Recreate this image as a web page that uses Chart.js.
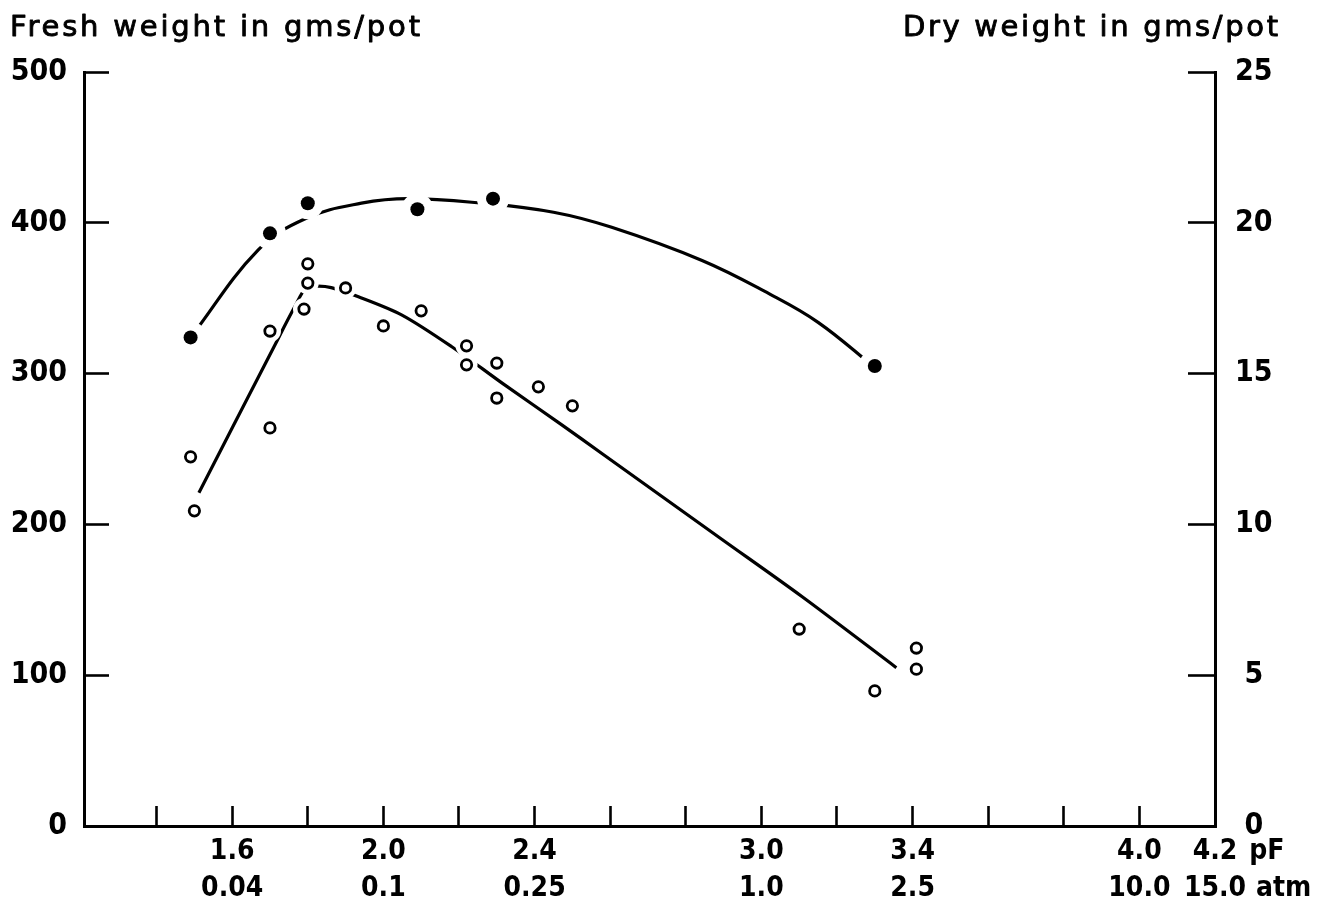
<!DOCTYPE html>
<html>
<head>
<meta charset="utf-8">
<script src="https://cdn.jsdelivr.net/npm/chart.js@4.4.1/dist/chart.umd.min.js"></script>
<style>
html,body{margin:0;padding:0;background:#fff;}
#wrap{width:1328px;height:906px;position:relative;}
</style>
</head>
<body>
<div id="wrap"><canvas id="c" width="1328" height="906"></canvas></div>
<script>
// ---------- data ----------
const freshTitle = 'Fresh weight in gms/pot';
const dryTitle = 'Dry weight in gms/pot';

const pfTicks = [1.4, 1.6, 1.8, 2.0, 2.2, 2.4, 2.6, 2.8, 3.0, 3.2, 3.4, 3.6, 3.8, 4.0, 4.2];
const pfLabelValues = [1.6, 2.0, 2.4, 3.0, 3.4, 4.0, 4.2];
const pfLabelText = ['1.6', '2.0', '2.4', '3.0', '3.4', '4.0', '4.2'];
const atmLabelText = ['0.04', '0.1', '0.25', '1.0', '2.5', '10.0', '15.0'];
const pfUnit = 'pF';
const atmUnit = 'atm';

const freshTicks = [0, 100, 200, 300, 400, 500];
const dryTicks = [0, 5, 10, 15, 20, 25];

// filled circles (fresh weight, left axis)
const freshPF = [1.49, 1.70, 1.80, 2.09, 2.29, 3.30];
const freshW  = [324, 393, 413, 409, 416, 305];
// fitted curve through filled circles
const freshCurvePF = [1.49, 1.669, 1.796, 1.942, 2.066, 2.26, 2.45, 2.604, 2.843, 3.02, 3.15, 3.30];
const freshCurveW  = [324, 382, 403, 413, 416, 413, 407, 397, 375, 353, 334, 304];

// open circles (dry weight, right axis)
const dryPF = [1.49, 1.50, 1.70, 1.70, 1.79, 1.80, 1.80, 1.90, 2.00, 2.10, 2.22, 2.22, 2.30, 2.30, 2.41, 2.50, 3.10, 3.30, 3.41, 3.41];
const dryW  = [12.24, 10.45, 16.41, 13.2, 17.14, 18.0, 18.64, 17.84, 16.58, 17.08, 15.92, 15.29, 15.35, 14.19, 14.56, 13.93, 6.53, 4.48, 5.9, 5.2];
// fitted curve through open circles
const dryCurvePF = [1.512, 1.711, 1.764, 1.796, 1.828, 1.862, 1.934, 2.048, 2.18, 2.318, 2.472, 2.578, 2.896, 3.108, 3.357];
const dryCurveW  = [11.05, 15.9, 17.18, 17.85, 17.9, 17.85, 17.55, 16.95, 15.9, 14.65, 13.3, 12.35, 9.5, 7.6, 5.25];

// ---------- styling constants ----------
const INK = '#000';
const numFont = '"Liberation Sans Narrow", "DejaVu Sans Condensed", sans-serif';
const titleFont = '"DejaVu Sans", sans-serif';
const X_FONT_SIZE = 28, X_LH = 1.32, X_TICKLEN = -20, X_PAD = 27;

const pts = (xs, ys) => xs.map((x, i) => ({x: x, y: ys[i]}));

function fitText(ctx, text, x, y, targetW, align) {
  ctx.letterSpacing = '0px';
  const w = ctx.measureText(text).width;
  const ls = Math.max(0, (targetW - w) / (text.length - 1));
  ctx.letterSpacing = ls + 'px';
  ctx.textAlign = 'left';
  const start = align === 'right' ? x - targetW : x;
  ctx.fillText(text, start, y);
  ctx.strokeText(text, start, y);
}

const headerPlugin = {
  id: 'headers',
  afterDraw(chart) {
    const ctx = chart.ctx;
    ctx.save();
    ctx.fillStyle = INK;
    ctx.strokeStyle = INK;
    ctx.lineWidth = 0.9;
    ctx.lineJoin = 'round';
    ctx.font = '29px ' + titleFont;
    ctx.textBaseline = 'alphabetic';
    fitText(ctx, freshTitle, 10, 36, 410, 'left');
    fitText(ctx, dryTitle, 1278, 36, 375, 'right');
    // units after last x labels
    ctx.letterSpacing = '0px';
    const xs = chart.scales.x;
    const px = xs.getPixelForValue(pfLabelValues[pfLabelValues.length - 1]);
    ctx.font = 'bold ' + X_FONT_SIZE + 'px ' + numFont;
    ctx.textBaseline = 'middle';
    ctx.textAlign = 'left';
    const lh = X_FONT_SIZE * X_LH;
    const y1 = xs.top + X_TICKLEN + X_PAD + lh / 2;
    const w1 = ctx.measureText(pfLabelText[pfLabelText.length - 1]).width;
    const w2 = ctx.measureText(atmLabelText[atmLabelText.length - 1]).width;
    ctx.fillText(pfUnit, px + w1 / 2 + 12, y1);
    ctx.fillText(atmUnit, px + w2 / 2 + 10, y1 + lh);
    ctx.restore();
  }
};

new Chart(document.getElementById('c'), {
  type: 'scatter',
  data: {
    datasets: [
      { // fresh curve
        data: pts(freshCurvePF, freshCurveW), yAxisID: 'y', showLine: true,
        borderColor: INK, borderWidth: 3.2, pointRadius: 0, tension: 0.4,
        fill: false, order: 10
      },
      { // dry curve
        data: pts(dryCurvePF, dryCurveW), yAxisID: 'y2', showLine: true,
        borderColor: INK, borderWidth: 3.2, pointRadius: 0, tension: 0.3,
        fill: false, order: 10
      },
      { // halos for gaps
        data: pts(freshPF, freshW), yAxisID: 'y', showLine: false,
        pointRadius: 16, pointBackgroundColor: '#fff', pointBorderWidth: 0, order: 5
      },
      {
        data: pts(dryPF, dryW), yAxisID: 'y2', showLine: false,
        pointRadius: 11, pointBackgroundColor: '#fff', pointBorderWidth: 0, order: 5
      },
      { // filled markers
        data: pts(freshPF, freshW), yAxisID: 'y', showLine: false,
        pointRadius: 7, pointBackgroundColor: INK, pointBorderWidth: 0, order: 1
      },
      { // open markers
        data: pts(dryPF, dryW), yAxisID: 'y2', showLine: false,
        pointRadius: 5.2, pointBackgroundColor: '#fff', pointBorderColor: INK, pointBorderWidth: 2.8, order: 1
      }
    ]
  },
  options: {
    responsive: false,
    animation: false,
    devicePixelRatio: 1,
    layout: { padding: { top: 72, left: 0, right: 0, bottom: 0 } },
    plugins: { legend: { display: false }, tooltip: { enabled: false }, title: { display: false } },
    scales: {
      x: {
        type: 'linear', position: 'bottom', min: 1.208, max: 4.2,
        afterBuildTicks: s => { s.ticks = pfTicks.map(v => ({ value: v })); },
        afterFit: s => { s.height = 906 - 826; },
        ticks: {
          autoSkip: false, maxRotation: 0, minRotation: 0, color: INK, padding: X_PAD,
          font: { family: numFont, size: X_FONT_SIZE, lineHeight: X_LH, weight: 'bold' },
          callback: v => {
            const i = pfLabelValues.findIndex(p => Math.abs(p - v) < 1e-6);
            return i < 0 ? '' : [pfLabelText[i], atmLabelText[i]];
          }
        },
        grid: { drawOnChartArea: false, drawTicks: true, tickLength: X_TICKLEN, tickWidth: 2.6, tickColor: INK },
        border: { display: true, color: INK, width: 3 }
      },
      y: {
        type: 'linear', position: 'left', min: 0, max: 500,
        afterBuildTicks: s => { s.ticks = freshTicks.map(v => ({ value: v })); },
        afterFit: s => { s.width = 84; },
        ticks: { color: INK, padding: 42, font: { family: numFont, size: 30, weight: 'bold' } },
        grid: { drawOnChartArea: false, drawTicks: true, tickLength: -25, tickWidth: 2.6, tickColor: INK },
        border: { display: true, color: INK, width: 3 }
      },
      y2: {
        type: 'linear', position: 'right', min: 0, max: 25,
        afterBuildTicks: s => { s.ticks = dryTicks.map(v => ({ value: v })); },
        afterFit: s => { s.width = 1328 - 1215; },
        ticks: { color: INK, padding: 47, crossAlign: 'center', font: { family: numFont, size: 30, weight: 'bold' } },
        grid: { drawOnChartArea: false, drawTicks: true, tickLength: -27, tickWidth: 2.6, tickColor: INK },
        border: { display: true, color: INK, width: 3 }
      }
    }
  },
  plugins: [headerPlugin]
});
</script>
</body>
</html>
